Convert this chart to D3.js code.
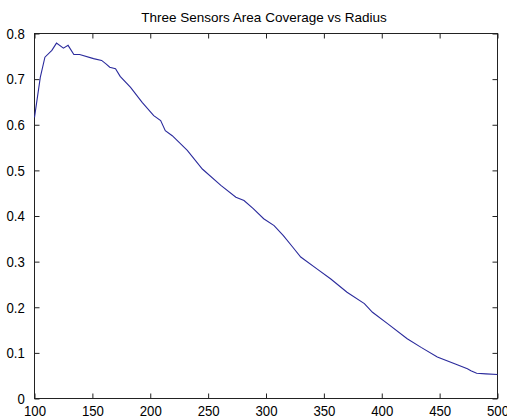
<!DOCTYPE html>
<html>
<head>
<meta charset="utf-8">
<script src="https://cdn.jsdelivr.net/npm/d3@7"></script>
<style>
html,body{margin:0;padding:0;background:#fff;}
svg{display:block;}
text{font-family:"Liberation Sans",Arial,Helvetica,sans-serif;fill:#000;}
</style>
</head>
<body>
<script>
const titleText = "Three Sensors Area Coverage vs Radius";
const radius = [100,105,109,115,119,125,129,134,139,151,158,162,165,170,174,183,193,203,209,213,219,232,245,261,274,281,289,298,307,315,323,330,344,356,370,385,392,405,422,434,448,463,474,477,482,490,500];
const coverage = [0.616,0.704,0.748,0.763,0.779,0.768,0.774,0.754,0.754,0.745,0.741,0.733,0.726,0.723,0.706,0.682,0.649,0.620,0.609,0.587,0.576,0.544,0.503,0.467,0.441,0.434,0.416,0.394,0.379,0.357,0.332,0.310,0.284,0.262,0.233,0.208,0.189,0.164,0.131,0.112,0.091,0.076,0.065,0.061,0.0555,0.054,0.0526];
const xTicks = [100,150,200,250,300,350,400,450,500];
const yTicks = [0,0.1,0.2,0.3,0.4,0.5,0.6,0.7,0.8];

const W = 507, H = 418;
const svg = d3.select("body").append("svg").attr("width", W).attr("height", H);

const x = d3.scaleLinear().domain([100, 500]).range([34.5, 497.5]);
const y = d3.scaleLinear().domain([0, 0.8]).range([398.5, 33.5]);
const axisColor = "#222";

// box
svg.append("rect").attr("x", x(100)).attr("y", y(0.8))
  .attr("width", x(500) - x(100)).attr("height", y(0) - y(0.8))
  .attr("fill", "none").attr("stroke", axisColor).attr("stroke-width", 1);

function styleAxis(g) {
  g.select(".domain").remove();
  g.selectAll(".tick line").attr("stroke", axisColor);
  g.selectAll(".tick text").attr("font-size", "15px").attr("fill", "#000")
    .attr("font-family", "'Liberation Sans',Arial,sans-serif");
}

// bottom
svg.append("g").attr("transform", `translate(0,${y(0)})`)
  .call(d3.axisBottom(x).tickValues(xTicks).tickSize(-5).tickPadding(7).tickFormat(d3.format("d")))
  .call(styleAxis)
  .call(g => g.selectAll(".tick text").attr("transform", "scale(0.88,1)"));
// top
svg.append("g").attr("transform", `translate(0,${y(0.8)})`)
  .call(d3.axisTop(x).tickValues(xTicks).tickSize(-5).tickFormat(""))
  .call(styleAxis);
// left
svg.append("g").attr("transform", `translate(${x(100)},0)`)
  .call(d3.axisLeft(y).tickValues(yTicks).tickSize(-5).tickPadding(11).tickFormat(d => d === 0 ? "0" : d3.format(".1f")(d)))
  .call(styleAxis)
  .call(g => g.selectAll(".tick text").attr("transform", "scale(0.88,1)"));
// right
svg.append("g").attr("transform", `translate(${x(500)},0)`)
  .call(d3.axisRight(y).tickValues(yTicks).tickSize(-5).tickFormat(""))
  .call(styleAxis);

// line
const pts = radius.map((r, i) => [r, coverage[i]]);
svg.append("path").datum(pts)
  .attr("fill", "none").attr("stroke", "#2a2a9c").attr("stroke-width", 1.1)
  .attr("d", d3.line().x(d => x(d[0])).y(d => y(d[1])));

// title
svg.append("text").attr("x", 264).attr("y", 22).attr("text-anchor", "middle")
  .attr("font-size", "13.5px").text(titleText);
</script>
</body>
</html>
